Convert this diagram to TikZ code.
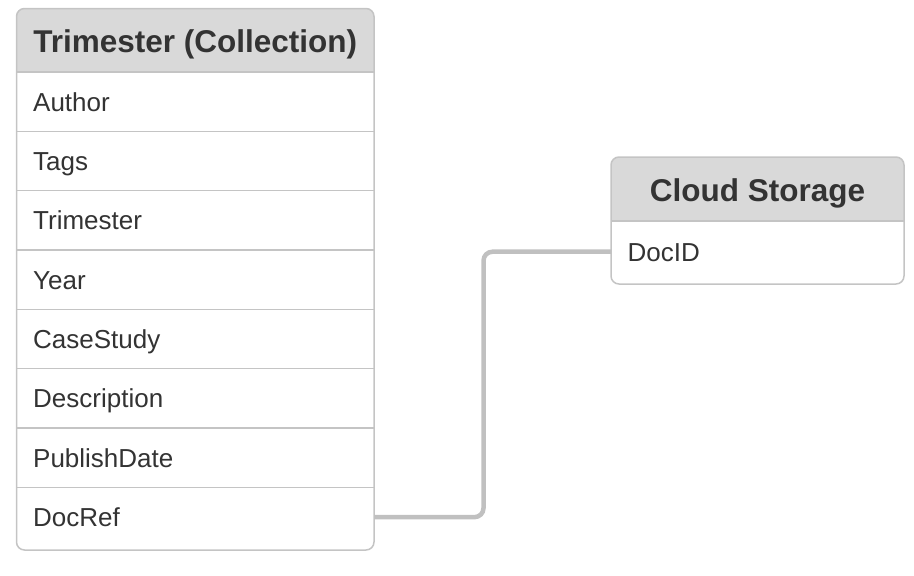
\documentclass[tikz,border=0pt]{standalone}
\usepackage{fontspec}
\setmainfont{Liberation Sans}
\definecolor{hdr}{HTML}{D9D9D9}
\definecolor{brd}{HTML}{C4C4C4}
\definecolor{txt}{HTML}{333333}
\definecolor{lnk}{HTML}{C0C0C0}
\begin{document}
\begin{tikzpicture}[x=1pt,y=-1pt,
  headtext/.style={font=\fontsize{31.5}{36}\selectfont\bfseries, text=txt, inner sep=0, anchor=center,
     text height=22.6, text depth=0},
  rowbox/.style={font=\fontsize{26}{30}\selectfont, text=txt, anchor=north west, inner xsep=16.5, inner ysep=0,
     align=left, text height=18.6, text depth=0},
  sep/.style={draw=brd, line width=1.5},
  frame/.style={draw=brd, line width=1.5, rounded corners=8},
  conn/.style={draw=lnk, line width=4.5, rounded corners=9}]
\useasboundingbox (0,0) rectangle (914,576);

% ---- Trimester table ----
\fill[hdr] (16.5,72) [rounded corners=8] -- (16.5,8.5) -- (374,8.5) [sharp corners] -- (374,72) -- cycle;
\node[headtext] (t1head) at (195.25,41.5) {Trimester (Collection)};
\foreach \n/\t/\y in {author/Author/72, tags/Tags/131.3, trim/Trimester/190.6, year/Year/250,
   case/CaseStudy/309.3, desc/Description/368.6, pub/PublishDate/428, docref/DocRef/487.3}{
  \node[rowbox, text width=324.5, minimum height=59.3] (\n) at (16.5,\y) {\t};
}
\foreach \y in {72,131.3,190.6,250,309.3,368.6,428,487.3}{
  \draw[sep] (16.5,\y) -- (374,\y);
}
\draw[frame] (16.5,8.5) rectangle (374,550);

% ---- Cloud Storage table ----
\fill[hdr] (611,221) [rounded corners=8] -- (611,157) -- (904,157) [sharp corners] -- (904,221) -- cycle;
\node[headtext] (t2head) at (757.5,190) {Cloud Storage};
\node[rowbox, text width=260, minimum height=61] (docid) at (611,221) {DocID};
\draw[sep] (611,221) -- (904,221);
\draw[frame] (611,157) rectangle (904,284);

% ---- connector ----
\coordinate (bend) at (483.5,251);
\draw[conn] (docref.east) -| (bend |- docid.west) -- (docid.west);
\end{tikzpicture}
\end{document}
